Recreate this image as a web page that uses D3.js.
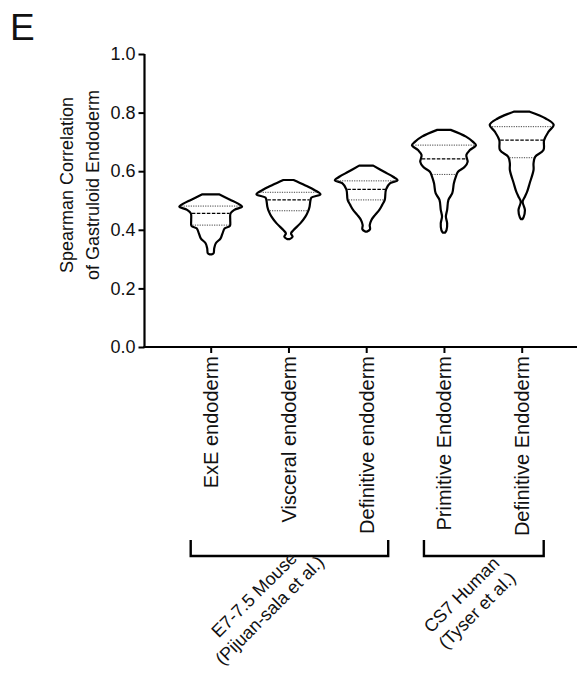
<!DOCTYPE html>
<html>
<head>
<meta charset="utf-8">
<script src="https://cdn.jsdelivr.net/npm/d3@7"></script>
<style>
  html, body { margin: 0; padding: 0; background: #fff; }
  svg { display: block; font-family: "Liberation Sans", Arial, Helvetica, sans-serif; }
</style>
</head>
<body>
<svg id="chart" width="577" height="676"></svg>
<script>
// Cell-type categories on the x axis
const categories = [
  "ExE endoderm",
  "Visceral endoderm",
  "Definitive endoderm",
  "Primitive Endoderm",
  "Definitive Endoderm"
];

// Violin outlines: [correlation value, relative density] from max to min
const exeProfile = [
  [0.521, 0.26], [0.502, 0.62], [0.490, 0.84], [0.479, 0.98], [0.468, 0.74],
  [0.456, 0.62], [0.433, 0.61], [0.413, 0.60], [0.405, 0.44], [0.388, 0.37],
  [0.371, 0.31], [0.354, 0.16], [0.337, 0.11], [0.320, 0.09], [0.316, 0.03]
];
const visceralProfile = [
  [0.570, 0.16], [0.553, 0.50], [0.536, 0.81], [0.521, 1.00], [0.510, 0.72],
  [0.502, 0.69], [0.479, 0.66], [0.462, 0.61], [0.445, 0.53], [0.422, 0.37],
  [0.399, 0.16], [0.388, 0.08], [0.376, 0.13], [0.368, 0.03]
];
const mouseDefProfile = [
  [0.619, 0.22], [0.598, 0.56], [0.581, 0.84], [0.569, 0.98], [0.559, 0.75],
  [0.538, 0.62], [0.502, 0.58], [0.485, 0.50], [0.468, 0.41], [0.451, 0.28],
  [0.433, 0.16], [0.416, 0.11], [0.402, 0.12], [0.394, 0.03]
];
const primitiveProfile = [
  [0.741, 0.21], [0.718, 0.69], [0.701, 0.90], [0.689, 1.00], [0.672, 0.81],
  [0.655, 0.70], [0.632, 0.74], [0.615, 0.65], [0.598, 0.44], [0.581, 0.37],
  [0.559, 0.31], [0.525, 0.26], [0.502, 0.14], [0.468, 0.10], [0.445, 0.06],
  [0.422, 0.10], [0.399, 0.08], [0.390, 0.03]
];
const humanDefProfile = [
  [0.803, 0.25], [0.780, 0.75], [0.758, 1.00], [0.735, 0.84], [0.706, 0.70],
  [0.672, 0.68], [0.649, 0.42], [0.627, 0.37], [0.604, 0.37], [0.559, 0.25],
  [0.530, 0.17], [0.513, 0.10], [0.496, 0.03], [0.468, 0.10], [0.443, 0.06],
  [0.436, 0.02]
];
const profiles = [exeProfile, visceralProfile, mouseDefProfile, primitiveProfile, humanDefProfile];

// Quartiles per category
const q1Values     = [0.416, 0.465, 0.502, 0.589, 0.646];
const medianValues = [0.456, 0.502, 0.538, 0.642, 0.706];
const q3Values     = [0.481, 0.528, 0.567, 0.689, 0.752];

// Y axis ticks
const yTicks = [0, 0.2, 0.4, 0.6, 0.8, 1.0];

// Dataset groupings shown under the axis
const groupLabels = [
  ["E7-7.5 Mouse", "(Pijuan-sala et al.)"],
  ["CS7 Human", "(Tyser et al.)"]
];
const groupFirst = [0, 3];
const groupLast  = [2, 4];

const svg = d3.select("#chart");
const font = "'Liberation Sans', Arial, Helvetica, sans-serif";

// Scales
const y = d3.scaleLinear().domain([0, 1]).range([347, 54]);
const x = d3.scalePoint().domain(categories).range([210.7, 521.7]);
const halfWidth = d3.scaleLinear().domain([0, 1]).range([0, 32]);
const axisX = 144.5;

// Panel letter
svg.append("text")
  .attr("x", 10).attr("y", 40)
  .attr("font-size", 37).attr("fill", "#111")
  .text("E");

// Y axis
const yAxis = svg.append("g")
  .attr("transform", `translate(${axisX},0)`)
  .call(d3.axisLeft(y).tickValues(yTicks).tickFormat(d3.format(".1f")).tickSize(6).tickPadding(3));
yAxis.select(".domain").attr("stroke", "#000").attr("stroke-width", 2.2).attr("d", `M0,${y(1)}V${y(0)}`);
yAxis.selectAll(".tick line").attr("stroke", "#000").attr("stroke-width", 2);
yAxis.selectAll(".tick text").attr("font-size", 18).attr("font-family", font).attr("fill", "#111");

// Y axis title
const titleLines = ["Spearman Correlation", "of Gastruloid Endoderm"];
svg.selectAll("text.ytitle").data(titleLines).join("text")
  .attr("class", "ytitle")
  .attr("transform", (d, i) => `translate(${73 + i * 26},185) rotate(-90)`)
  .attr("text-anchor", "middle")
  .attr("font-size", 18).attr("fill", "#111")
  .text(d => d);

// X axis
const xAxis = svg.append("g")
  .attr("transform", `translate(0,${y(0)})`)
  .call(d3.axisBottom(x).tickSize(6).tickPadding(3));
xAxis.select(".domain").attr("stroke", "#000").attr("stroke-width", 2.2).attr("d", `M${axisX - 1.1},0H577`);
xAxis.selectAll(".tick line").attr("stroke", "#000").attr("stroke-width", 2);
xAxis.selectAll(".tick text")
  .attr("font-size", 20).attr("font-family", font).attr("fill", "#111")
  .attr("text-anchor", "end")
  .attr("transform", "rotate(-90)")
  .attr("x", -9).attr("y", 0).attr("dy", "0.34em");

// Violins
const densityAt = (profile, v) => {
  for (let i = 0; i < profile.length - 1; i++) {
    const a = profile[i], b = profile[i + 1];
    if (v <= a[0] && v >= b[0]) {
      const t = (a[0] - v) / (a[0] - b[0]);
      return a[1] + t * (b[1] - a[1]);
    }
  }
  return 0;
};

const violins = svg.append("g");
categories.forEach((cat, i) => {
  const cx = x(cat);
  const area = d3.area()
    .curve(d3.curveCatmullRom.alpha(0.5))
    .y(d => y(d[0]))
    .x0(d => cx - halfWidth(d[1]))
    .x1(d => cx + halfWidth(d[1]));
  violins.append("path")
    .datum(profiles[i])
    .attr("d", area)
    .attr("fill", "#fff")
    .attr("stroke", "#000")
    .attr("stroke-width", 2.2)
    .attr("stroke-linejoin", "round");

  const qLine = (v, dash, color, width) => {
    const hw = Math.max(0, halfWidth(densityAt(profiles[i], v)) - 1);
    violins.append("line")
      .attr("x1", cx - hw).attr("x2", cx + hw)
      .attr("y1", y(v)).attr("y2", y(v))
      .attr("stroke", color).attr("stroke-width", width)
      .attr("stroke-dasharray", dash);
  };
  qLine(q3Values[i], "1.2,1.2", "#444", 1);
  qLine(medianValues[i], "3.5,1.5", "#000", 1.3);
  qLine(q1Values[i], "1.2,1.2", "#444", 1);
});

// Group brackets and labels
const bracketTop = 540, bracketBottom = 556;
const labelShift = [-31, -18];
groupLabels.forEach((lines, g) => {
  const x0 = x(categories[groupFirst[g]]) - 20;
  const x1 = x(categories[groupLast[g]]) + 22;
  svg.append("path")
    .attr("d", `M${x0},${bracketTop}V${bracketBottom}H${x1}V${bracketTop}`)
    .attr("fill", "none").attr("stroke", "#000").attr("stroke-width", 2.4);

  const mid = (x0 + x1) / 2 + labelShift[g];
  lines.forEach((line, k) => {
    svg.append("text")
      .attr("transform", `translate(${mid + k * 15.6},${599 + k * 15.6}) rotate(-45)`)
      .attr("text-anchor", "middle")
      .attr("font-size", 18).attr("fill", "#111")
      .text(line);
  });
});
</script>
</body>
</html>
